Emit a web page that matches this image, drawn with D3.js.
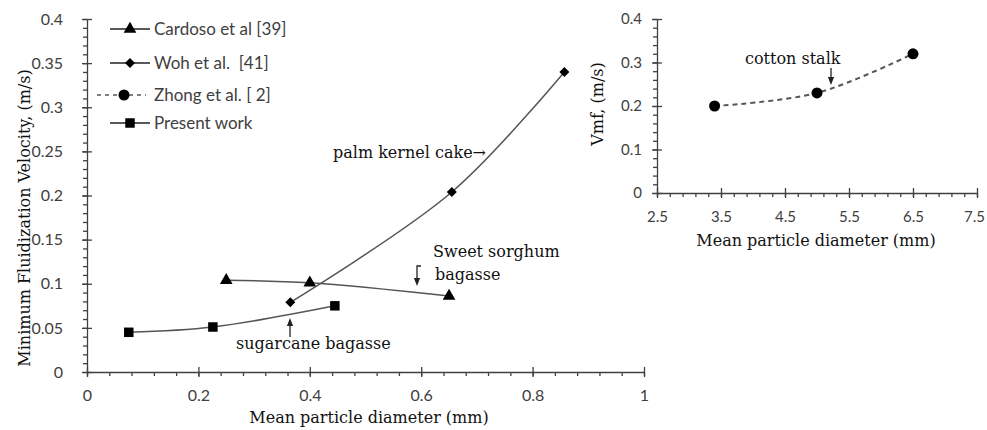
<!DOCTYPE html>
<html>
<head>
<meta charset="utf-8">
<script src="https://cdn.jsdelivr.net/npm/d3@7"></script>
<style>
  body { margin: 0; background: #fff; }
  .tick text { font-family: Lato, "Open Sans", sans-serif; font-size: 16px; fill: #404040; }
  .serif { font-family: "DejaVu Serif", serif; fill: #111; }
</style>
</head>
<body>
<svg id="viz" width="987" height="430"></svg>
<script>
const svg = d3.select("#viz");

// データ (左: 文献比較, 右: 綿の茎)
const cardosoX = [0.25, 0.40, 0.65];
const cardosoY = [0.104, 0.101, 0.086];
const wohX = [0.365, 0.655, 0.857];
const wohY = [0.079, 0.204, 0.340];
const presentX = [0.075, 0.226, 0.445];
const presentY = [0.045, 0.051, 0.075];
const zhongX = [3.4, 5.0, 6.5];
const zhongY = [0.20, 0.23, 0.32];

const leftXTicks = [0, 0.2, 0.4, 0.6, 0.8, 1];
const leftYTicks = [0, 0.05, 0.1, 0.15, 0.2, 0.25, 0.3, 0.35, 0.4];
const rightXTicks = [2.5, 3.5, 4.5, 5.5, 6.5, 7.5];
const rightYTicks = [0, 0.1, 0.2, 0.3, 0.4];

const legendNames = ["Cardoso et al [39]", "Woh et al.\u00a0 [41]", "Zhong et al. [ 2]", "Present work"];

// 1. スケール
const xL = d3.scaleLinear().domain([0, 1]).range([87, 644]);
const yL = d3.scaleLinear().domain([0, 0.4]).range([372, 19]);
const xR = d3.scaleLinear().domain([2.5, 7.5]).range([657, 977]);
const yR = d3.scaleLinear().domain([0, 0.4]).range([193, 19]);

const axisColor = "#404040";
const lineColor = "#555";

// 2. 軸 (主目盛は軸をまたぐ、補助目盛は外側)
function drawAxes(x, y, xTicks, yTicks, xMinorStep, yMinorStep, xLabelGap, yLabelGap, fontSize) {
    const [x0, x1] = x.domain();
    const [y0, y1] = y.domain();
    const xMinor = d3.range(0, Math.round((x1 - x0) / xMinorStep) + 1).map(i => x0 + i * xMinorStep);
    const yMinor = d3.range(0, Math.round((y1 - y0) / yMinorStep) + 1).map(i => y0 + i * yMinorStep);

    const gx = svg.append("g").attr("transform", `translate(0,${y(y0)})`);
    gx.append("g").call(d3.axisBottom(x).tickValues(xMinor).tickFormat("").tickSize(4).tickSizeOuter(0))
        .call(g => g.select(".domain").remove());
    gx.append("g").call(d3.axisBottom(x).tickValues(xTicks).tickFormat(d => d).tickSize(6).tickSizeOuter(0).tickPadding(xLabelGap))
        .call(g => g.selectAll(".tick line").attr("y1", -5).attr("y2", 5))
        .call(g => g.selectAll(".tick text").style("font-size", fontSize + "px"));

    const gy = svg.append("g").attr("transform", `translate(${x(x0)},0)`);
    gy.append("g").call(d3.axisLeft(y).tickValues(yMinor).tickFormat("").tickSize(4).tickSizeOuter(0))
        .call(g => g.select(".domain").remove());
    gy.append("g").call(d3.axisLeft(y).tickValues(yTicks).tickFormat(d => d).tickSize(6).tickSizeOuter(0).tickPadding(yLabelGap))
        .call(g => g.selectAll(".tick line").attr("x1", -5).attr("x2", 5))
        .call(g => g.selectAll(".tick text").style("font-size", fontSize + "px"));

    svg.selectAll(".domain, .tick line").attr("stroke", axisColor).attr("stroke-width", 1.3);
    return gx;
}
drawAxes(xL, yL, leftXTicks, leftYTicks, 0.04, 0.01, 12, 18, 16);
const gxR = drawAxes(xR, yR, rightXTicks, rightYTicks, 0.2, 0.02, 12, 9, 15);
// 右端の "7.5" が切れないよう少し左へ
gxR.selectAll(".tick text").filter(d => d === 7.5).attr("dx", -3);

// 3. マーカー (菱形は正方形を45度回転)
const sym = {
    tri: d3.symbol().type(d3.symbolTriangle).size(70),
    dia: d3.symbol().type(d3.symbolSquare).size(50),
    sq: d3.symbol().type(d3.symbolSquare).size(90),
    cir: d3.symbol().type(d3.symbolCircle).size(95)
};
const rot = { tri: 0, dia: 45, sq: 0, cir: 0 };

function drawSeries(xs, ys, x, y, key, dashed) {
    const pts = xs.map((v, i) => [x(v), y(ys[i])]);
    svg.append("path")
        .attr("d", d3.line().curve(d3.curveCatmullRom.alpha(0.5))(pts))
        .attr("fill", "none")
        .attr("stroke", lineColor)
        .attr("stroke-width", dashed ? 2 : 1.5)
        .attr("stroke-dasharray", dashed ? "5,4" : null);
    svg.selectAll(null).data(pts).enter().append("path")
        .attr("d", sym[key]())
        .attr("transform", d => `translate(${d[0]},${d[1]}) rotate(${rot[key]})`)
        .attr("fill", "#000");
}
drawSeries(cardosoX, cardosoY, xL, yL, "tri", false);
drawSeries(wohX, wohY, xL, yL, "dia", false);
drawSeries(presentX, presentY, xL, yL, "sq", false);
drawSeries(zhongX, zhongY, xR, yR, "cir", true);

// 4. 凡例
const legendKeys = ["tri", "dia", "cir", "sq"];
const legendY = [29, 63, 95, 123];
legendNames.forEach((name, i) => {
    const g = svg.append("g").attr("transform", `translate(0,${legendY[i]})`);
    const dashed = i === 2;
    const key = legendKeys[i];
    g.append("line")
        .attr("x1", dashed ? 97 : 110).attr("x2", dashed ? 146 : 150)
        .attr("stroke", dashed ? lineColor : "#222").attr("stroke-width", dashed ? 1.6 : 1.5)
        .attr("stroke-dasharray", dashed ? "4,4" : null);
    g.append("path").attr("d", sym[key]())
        .attr("transform", `translate(${dashed ? 124 : 130},0) rotate(${rot[key]})`).attr("fill", "#000");
    g.append("text").attr("x", 154).attr("dy", "0.35em")
        .style("font-family", "Lato, 'Open Sans', sans-serif").style("font-size", "17px").attr("fill", "#404040")
        .text(name);
});

// 5. 軸タイトル
svg.append("text").attr("class", "serif").attr("text-anchor", "middle")
    .attr("transform", "translate(30,218) rotate(-90)")
    .style("font-size", "16px").text("Minimum Fluidization Velocity, (m/s)");
svg.append("text").attr("class", "serif").attr("text-anchor", "middle")
    .attr("x", 369).attr("y", 423).style("font-size", "16px").text("Mean particle diameter (mm)");
svg.append("text").attr("class", "serif").attr("text-anchor", "middle")
    .attr("transform", "translate(603,104) rotate(-90)")
    .style("font-size", "16px").text("Vmf, (m/s)");
svg.append("text").attr("class", "serif").attr("text-anchor", "middle")
    .attr("x", 816).attr("y", 246).style("font-size", "16px").text("Mean particle diameter (mm)");

// 6. 注記
const notes = [
    { text: "palm kernel cake\u2192", x: 333, y: 158 },
    { text: "Sweet sorghum", x: 433, y: 257 },
    { text: "bagasse", x: 435, y: 280 },
    { text: "sugarcane bagasse", x: 236, y: 349 },
    { text: "cotton stalk", x: 745, y: 64 }
];
svg.selectAll(".note").data(notes).enter().append("text")
    .attr("class", "serif note")
    .attr("x", d => d.x).attr("y", d => d.y)
    .style("font-size", "16px")
    .text(d => d.text);

svg.append("defs").append("marker")
    .attr("id", "head").attr("viewBox", "0 0 10 10").attr("refX", 5).attr("refY", 5)
    .attr("markerWidth", 6).attr("markerHeight", 6).attr("orient", "auto-start-reverse")
    .append("path").attr("d", "M0,1 L10,5 L0,9 z").attr("fill", "#222");

const arrows = [
    "M290,337 V322",          // sugarcane
    "M421,266 H417 V282",     // sweet sorghum
    "M831,68 V81"             // cotton stalk
];
arrows.forEach(d => {
    svg.append("path").attr("d", d).attr("fill", "none")
        .attr("stroke", "#222").attr("stroke-width", 1.3)
        .attr("marker-end", "url(#head)");
});
</script>
</body>
</html>
